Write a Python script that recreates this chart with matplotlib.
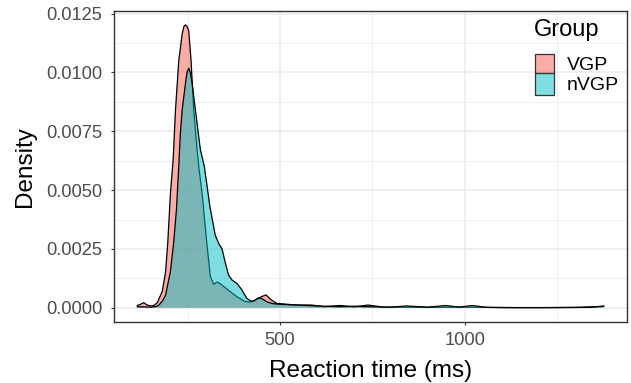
import matplotlib
matplotlib.use("Agg")
import matplotlib.pyplot as plt
from matplotlib.patches import Rectangle
from matplotlib.colors import to_rgba
from matplotlib.ticker import MultipleLocator

plt.rcParams['font.family'] = ['Liberation Sans', 'DejaVu Sans']

groups = ["VGP", "nVGP"]
colors = ["#F8766D", "#00BFC4"]

vgp_x = [113.5, 122, 131, 140, 150, 158, 167.5, 181, 190, 196, 203.3, 210.5, 216.8,
         225.7, 234.9, 239.5, 243.8, 248, 252.7, 259, 266.2, 275.2, 280, 290, 300, 311,
         320, 330, 340, 352, 365, 385, 405, 419, 435, 450, 462, 475, 491, 520, 545,
         585, 620, 662, 700, 738, 780, 842, 900, 949, 1020, 1100, 1200, 1300, 1376]
vgp_y = [0.00010, 0.00015, 0.00022, 0.00012, 0.00008, 0.00010, 0.00022, 0.00069,
         0.00153, 0.00279, 0.00490, 0.00630, 0.00840, 0.01050, 0.01163, 0.01195,
         0.01202, 0.01196, 0.01177, 0.01050, 0.00840, 0.00672, 0.00600, 0.00470,
         0.00300, 0.00135, 0.00100, 0.00110, 0.00100, 0.00085, 0.00069, 0.00045,
         0.00027, 0.00025, 0.00035, 0.00048, 0.00055, 0.00035, 0.00019, 0.00015,
         0.00012, 0.00012, 0.00005, 0.00010, 0.00004, 0.00012, 0.00003, 0.00003,
         0.00002, 0.00003, 0.00003, 0.00001, 0.00001, 0.00002, 0.00006]

nvgp_x = [113.5, 130, 150, 165, 172, 182, 190, 196, 203, 212, 219.5, 226, 230,
          234.9, 243.8, 248, 252.7, 257, 261.9, 270.8, 284.2, 295, 310, 324.7, 335,
          342.7, 352, 360.6, 370, 383, 395, 410, 423.6, 432, 441.5, 452, 465, 480,
          500, 545, 600, 662, 700, 738, 800, 842, 900, 949, 985, 1020, 1060, 1150,
          1250, 1340, 1376]
nvgp_y = [0.00005, 0.00004, 0.00003, 0.00006, 0.00012, 0.00030, 0.00054, 0.00100,
          0.00153, 0.00279, 0.00419, 0.00610, 0.00740, 0.00840, 0.00953, 0.01000,
          0.01018, 0.01000, 0.00953, 0.00840, 0.00672, 0.00600, 0.00430, 0.00307,
          0.00270, 0.00251, 0.00190, 0.00139, 0.00118, 0.00104, 0.00080, 0.00040,
          0.00027, 0.00032, 0.00043, 0.00038, 0.00025, 0.00018, 0.00015, 0.00012,
          0.00008, 0.00005, 0.00007, 0.00005, 0.00003, 0.00008, 0.00003, 0.00010,
          0.00003, 0.00010, 0.00002, 0.00001, 0.00001, 0.00002, 0.00008]

x_ticks = [500, 1000]
x_tick_labels = ["500", "1000"]
y_ticks = [0, 0.0025, 0.005, 0.0075, 0.01, 0.0125]
y_tick_labels = ["0.0000", "0.0025", "0.0050", "0.0075", "0.0100", "0.0125"]

xs = [vgp_x, nvgp_x]
ys = [vgp_y, nvgp_y]
alphas = [0.6, 0.5]

W, H = 631, 383
fig = plt.figure(figsize=(W / 100, H / 100), dpi=100)
L, R, T, B = 114, 627, 10.7, 322
ax = fig.add_axes([L / W, 1 - B / H, (R - L) / W, (B - T) / H])

for i, (x, y, c, a) in enumerate(zip(xs, ys, colors, alphas)):
    ax.fill_between(x, 0, y, facecolor=to_rgba(c, a), linewidth=0, zorder=2 + 2 * i)
    ax.plot(x, y, color="black", linewidth=0.9, zorder=3 + 2 * i)

xmin, xmax = min(min(vgp_x), min(nvgp_x)), max(max(vgp_x), max(nvgp_x))
pad = (xmax - xmin) * 0.05
ax.set_xlim(xmin - pad, xmax + pad)
ymax = max(max(vgp_y), max(nvgp_y))
ax.set_ylim(-ymax * 0.05, ymax * 1.05)

ax.set_xticks(x_ticks)
ax.set_xticklabels(x_tick_labels)
ax.xaxis.set_minor_locator(MultipleLocator(250))
ax.set_yticks(y_ticks)
ax.set_yticklabels(y_tick_labels)
ax.yaxis.set_minor_locator(MultipleLocator(0.00125))

ax.grid(which="major", color="#EBEBEB", linewidth=1.1, zorder=0)
ax.grid(which="minor", color="#EBEBEB", linewidth=0.55, zorder=0)
ax.set_axisbelow(True)
ax.tick_params(which="major", length=2.5, width=0.8, color="#333333",
               labelsize=13.2, labelcolor="#4D4D4D")
ax.tick_params(axis="y", which="major", pad=6)
ax.tick_params(axis="x", which="major", pad=5)
ax.tick_params(which="minor", length=0)
for s in ax.spines.values():
    s.set_color("#333333")
    s.set_linewidth(1.0)

fig.text(371 / W, 1 - 376.7 / H, "Reaction time (ms)", fontsize=17.5,
         ha="center", va="baseline")
fig.text(24.8 / W, 1 - 167 / H, "Density", fontsize=17.5, rotation=90,
         ha="center", va="center")

def axc(px, py):
    return ((px - L) / (R - L), (B - py) / (B - T))

tx, ty = axc(534, 30)
ax.text(tx, ty, "Group", transform=ax.transAxes, fontsize=17, va="center", ha="left")
keys = [(54.3, 73.3), (73.3, 95.0)]
label_y = [65, 85]
for (y0, y1), c, a, g, ly in zip(keys, colors, alphas, groups, label_y):
    x0, yb = axc(535, y1)
    x1, yt2 = axc(554.3, y0)
    ax.add_patch(Rectangle((x0, yb), x1 - x0, yt2 - yb, transform=ax.transAxes,
                           facecolor=to_rgba(c, a), edgecolor="#333333",
                           linewidth=0.9, zorder=8, clip_on=False))
    lx, lyy = axc(566.7, ly)
    ax.text(lx, lyy, g, transform=ax.transAxes, fontsize=14, va="center", ha="left",
            zorder=8)

fig.savefig("out.png", dpi=100)
